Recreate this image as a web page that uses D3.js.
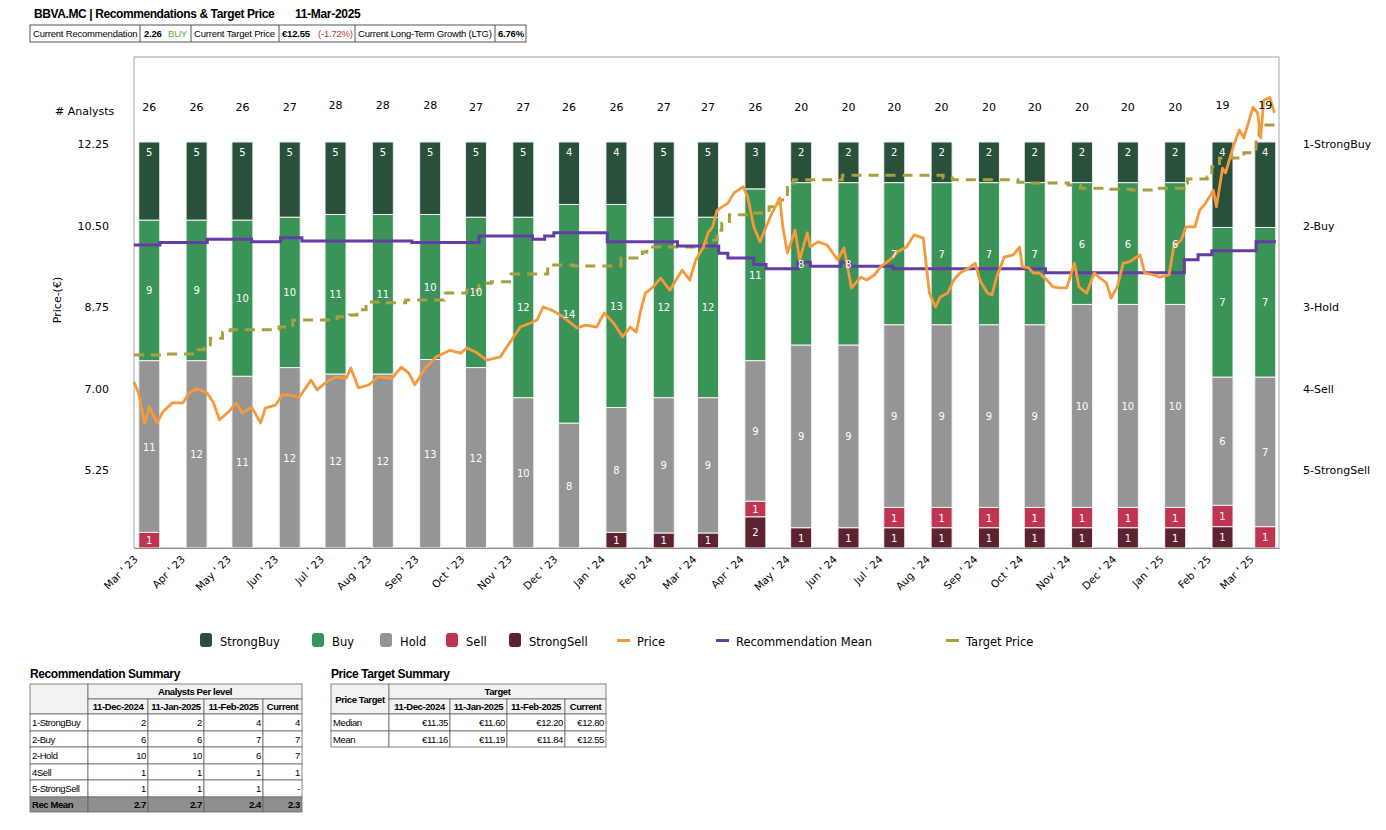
<!DOCTYPE html>
<html>
<head>
<meta charset="utf-8">
<script src="https://cdn.jsdelivr.net/npm/d3@7"></script>
<style>
  body { margin: 0; background: #fff; }
  svg { display: block; }
</style>
</head>
<body>
<svg id="chart" width="1386" height="830"></svg>
<script>
// ---- data ----
const months = ["2023-03-11","2023-04-11","2023-05-11","2023-06-11","2023-07-11","2023-08-11","2023-09-11",
  "2023-10-11","2023-11-11","2023-12-11","2024-01-11","2024-02-11","2024-03-11","2024-04-11","2024-05-11",
  "2024-06-11","2024-07-11","2024-08-11","2024-09-11","2024-10-11","2024-11-11","2024-12-11","2025-01-11",
  "2025-02-11","2025-03-11"];
const strongBuy  = [5,5,5,5,5,5,5,5,5,4,4,5,5,3,2,2,2,2,2,2,2,2,2,4,4];
const buy        = [9,9,10,10,11,11,10,10,12,14,13,12,12,11,8,8,7,7,7,7,6,6,6,7,7];
const hold       = [11,12,11,12,12,12,13,12,10,8,8,9,9,9,9,9,9,9,9,9,10,10,10,6,7];
const sell       = [1,0,0,0,0,0,0,0,0,0,0,0,0,1,0,0,1,1,1,1,1,1,1,1,1];
const strongSell = [0,0,0,0,0,0,0,0,0,0,1,1,1,2,1,1,1,1,1,1,1,1,1,1,0];

const price = [
  ["2023-03-01",7.14],["2023-03-04",6.90],["2023-03-08",6.25],["2023-03-11",6.60],["2023-03-16",6.26],
  ["2023-03-20",6.50],["2023-03-26",6.69],["2023-04-02",6.69],["2023-04-06",6.90],["2023-04-11",7.00],
  ["2023-04-18",6.90],["2023-04-22",6.70],["2023-04-26",6.33],["2023-05-02",6.50],["2023-05-07",6.69],
  ["2023-05-11",6.47],["2023-05-17",6.60],["2023-05-23",6.26],["2023-05-26",6.58],["2023-06-02",6.65],
  ["2023-06-06",6.86],["2023-06-12",6.86],["2023-06-17",6.80],["2023-06-25",7.18],["2023-06-29",6.97],
  ["2023-07-05",7.14],["2023-07-11",7.25],["2023-07-18",7.22],["2023-07-21",7.44],["2023-07-26",7.01],
  ["2023-08-02",7.08],["2023-08-08",7.25],["2023-08-17",7.22],["2023-08-23",7.46],["2023-08-28",7.33],
  ["2023-09-01",7.08],["2023-09-08",7.45],["2023-09-15",7.68],["2023-09-24",7.82],["2023-10-01",7.76],
  ["2023-10-05",7.87],["2023-10-11",7.78],["2023-10-18",7.61],["2023-10-27",7.68],["2023-11-02",7.98],
  ["2023-11-09",8.32],["2023-11-16",8.41],["2023-11-20",8.47],["2023-11-24",8.75],["2023-11-29",8.69],
  ["2023-12-03",8.62],["2023-12-07",8.54],["2023-12-12",8.41],["2023-12-16",8.30],["2023-12-22",8.36],
  ["2023-12-29",8.32],["2024-01-03",8.62],["2024-01-09",8.41],["2024-01-15",8.11],["2024-01-20",8.32],
  ["2024-01-24",8.21],["2024-01-27",8.69],["2024-01-30",9.05],["2024-02-04",9.18],["2024-02-09",9.37],
  ["2024-02-15",9.11],["2024-02-19",9.33],["2024-02-23",9.54],["2024-02-28",9.33],["2024-03-03",9.76],
  ["2024-03-08",10.04],["2024-03-11",10.34],["2024-03-14",10.47],["2024-03-17",10.83],["2024-03-24",10.98],
  ["2024-03-28",11.20],["2024-04-03",11.33],["2024-04-06",11.11],["2024-04-10",10.47],["2024-04-14",10.15],
  ["2024-04-18",10.47],["2024-04-22",10.77],["2024-04-27",11.09],["2024-04-29",10.47],["2024-05-02",9.91],
  ["2024-05-07",10.40],["2024-05-10",9.76],["2024-05-15",10.34],["2024-05-17",10.04],["2024-05-22",10.15],
  ["2024-05-28",10.08],["2024-06-04",9.76],["2024-06-08",10.02],["2024-06-13",9.16],["2024-06-19",9.39],
  ["2024-06-23",9.33],["2024-06-28",9.44],["2024-07-02",9.61],["2024-07-08",9.76],["2024-07-13",9.93],
  ["2024-07-19",10.04],["2024-07-24",10.30],["2024-07-30",10.23],["2024-08-03",9.05],["2024-08-07",8.75],
  ["2024-08-10",8.96],["2024-08-15",9.05],["2024-08-19",9.33],["2024-08-23",9.48],["2024-08-30",9.61],
  ["2024-09-02",9.69],["2024-09-05",9.33],["2024-09-10",9.05],["2024-09-13",9.01],["2024-09-16",9.39],
  ["2024-09-21",9.82],["2024-09-27",9.87],["2024-10-01",10.04],["2024-10-03",9.61],["2024-10-07",9.59],
  ["2024-10-10",9.48],["2024-10-14",9.48],["2024-10-19",9.33],["2024-10-23",9.18],["2024-10-27",9.16],
  ["2024-11-01",9.16],["2024-11-06",9.69],["2024-11-09",9.18],["2024-11-14",9.05],["2024-11-19",9.48],
  ["2024-11-22",9.39],["2024-11-27",9.27],["2024-11-30",8.94],["2024-12-04",9.18],["2024-12-08",9.69],
  ["2024-12-12",9.72],["2024-12-19",9.87],["2024-12-22",9.48],["2024-12-28",9.44],["2025-01-01",9.39],
  ["2025-01-07",9.44],["2025-01-10",10.04],["2025-01-15",10.19],["2025-01-18",10.47],["2025-01-24",10.47],
  ["2025-01-27",10.83],["2025-01-31",10.98],["2025-02-05",11.26],["2025-02-07",10.90],["2025-02-11",11.73],
  ["2025-02-13",11.63],["2025-02-18",12.19],["2025-02-22",12.55],["2025-02-25",12.38],["2025-03-03",13.04],
  ["2025-03-06",12.92],["2025-03-08",12.38],["2025-03-10",13.19],["2025-03-14",13.25],["2025-03-17",12.92]
];

const recMean = [
  ["2023-03-01",2.24],["2023-03-18",2.21],["2023-04-18",2.17],["2023-05-17",2.20],["2023-06-05",2.15],
  ["2023-06-19",2.19],["2023-08-30",2.21],["2023-10-13",2.13],["2023-11-17",2.17],["2023-11-25",2.13],
  ["2023-12-01",2.09],["2024-01-05",2.20],["2024-02-20",2.25],["2024-03-18",2.34],["2024-03-24",2.40],
  ["2024-04-10",2.48],["2024-04-18",2.53],["2024-05-09",2.45],["2024-05-17",2.50],["2024-06-06",2.45],
  ["2024-06-12",2.50],["2024-07-10",2.53],["2024-10-18",2.58],["2025-01-17",2.42],["2025-01-26",2.36],
  ["2025-02-04",2.31],["2025-03-05",2.20],["2025-03-18",2.20]
];

const target = [
  ["2023-03-01",7.72],["2023-03-21",7.74],["2023-04-11",7.83],["2023-04-16",7.87],["2023-04-20",8.08],
  ["2023-04-28",8.21],["2023-05-03",8.26],["2023-06-04",8.32],["2023-06-13",8.47],["2023-07-12",8.54],
  ["2023-07-20",8.58],["2023-07-25",8.69],["2023-07-31",8.86],["2023-08-11",8.84],["2023-08-26",8.90],
  ["2023-09-20",9.05],["2023-10-05",9.11],["2023-10-13",9.26],["2023-10-21",9.29],["2023-11-03",9.46],
  ["2023-11-27",9.61],["2023-11-29",9.65],["2023-12-14",9.63],["2024-01-14",9.80],["2024-01-28",9.93],
  ["2024-01-31",10.04],["2024-03-10",10.19],["2024-03-17",10.40],["2024-03-20",10.55],["2024-03-25",10.73],
  ["2024-04-07",10.77],["2024-04-20",10.90],["2024-04-27",11.05],["2024-05-02",11.41],["2024-05-06",11.48],
  ["2024-06-07",11.58],["2024-08-12",11.52],["2024-08-18",11.48],["2024-09-30",11.43],["2024-10-07",11.41],
  ["2024-11-02",11.37],["2024-11-10",11.30],["2024-11-28",11.28],["2024-12-13",11.26],["2024-12-29",11.30],
  ["2025-01-17",11.41],["2025-01-19",11.50],["2025-02-01",11.54],["2025-02-04",11.76],["2025-02-09",11.95],
  ["2025-02-25",12.06],["2025-03-05",12.34],["2025-03-07",12.66],["2025-03-18",12.66]
];

const priceTicks = [5.25, 7.00, 8.75, 10.50, 12.25];
const recLabels = ["1-StrongBuy","2-Buy","3-Hold","4-Sell","5-StrongSell"];

const tableDates = ["11-Dec-2024","11-Jan-2025","11-Feb-2025","Current"];
const recRowNames = ["1-StrongBuy","2-Buy","2-Hold","4Sell","5-StrongSell"];
const recRowVals = [[2,2,4,4],[6,6,7,7],[10,10,6,7],[1,1,1,1],[1,1,1,"-"]];
const recMeanVals = ["2.7","2.7","2.4","2.3"];
const ptRowNames = ["Median","Mean"];
const ptRowVals = [["€11.35","€11.60","€12.20","€12.80"],["€11.16","€11.19","€11.84","€12.55"]];

// ---- setup ----
const parse = d3.timeParse("%Y-%m-%d");
const svg = d3.select("#chart");
const FONT = "'DejaVu Sans', Verdana, sans-serif";
const NARROW = "'Liberation Sans', Arial, sans-serif";

const colors = {
  strongBuy: "#29503a", buy: "#3a9458", hold: "#959595", sell: "#bf3451", strongSell: "#5c2230",
  price: "#f6993b", rec: "#643ca4", target: "#a8a03c"
};

const plotL = 134, plotR = 1279, plotT = 57, plotB = 548;
const x = d3.scaleTime().domain([new Date(2023, 2, 1), new Date(2025, 2, 20)]).range([plotL, plotR]);
const yPrice = d3.scaleLinear().domain([5.25, 12.25]).range([470, 144]);
const yRec = d3.scaleLinear().domain([1, 5]).range([144, 470]);
const yPct = d3.scaleLinear().domain([0, 1]).range([plotB, 142]);

// ---- header ----
svg.append("text").attr("x", 34).attr("y", 18).attr("font-family", NARROW).attr("font-weight", "bold")
  .attr("font-size", 12).attr("letter-spacing", -0.4).text("BBVA.MC | Recommendations & Target Price");
svg.append("text").attr("x", 295).attr("y", 18).attr("font-family", NARROW).attr("font-weight", "bold")
  .attr("font-size", 12).attr("letter-spacing", -0.3).text("11-Mar-2025");

const infoEdges = [30, 140, 191, 279, 355, 495, 526];
const info = svg.append("g").attr("font-family", NARROW).attr("font-size", 9.5).attr("letter-spacing", -0.2);
info.append("rect").attr("x", 30).attr("y", 25).attr("width", 496).attr("height", 17)
  .attr("fill", "none").attr("stroke", "#555");
infoEdges.slice(1, -1).forEach(e => info.append("line").attr("x1", e).attr("x2", e)
  .attr("y1", 25).attr("y2", 42).attr("stroke", "#555"));
info.append("text").attr("x", 33).attr("y", 37).text("Current Recommendation");
info.append("text").attr("x", 144).attr("y", 37).attr("font-weight", "bold").text("2.26");
info.append("text").attr("x", 168).attr("y", 37).attr("fill", "#5cae35").text("BUY");
info.append("text").attr("x", 194).attr("y", 37).text("Current Target Price");
info.append("text").attr("x", 282).attr("y", 37).attr("font-weight", "bold").text("€12.55");
info.append("text").attr("x", 318).attr("y", 37).attr("fill", "#c0392b").text("(-1.72%)");
info.append("text").attr("x", 358).attr("y", 37).text("Current Long-Term Growth (LTG)");
info.append("text").attr("x", 498).attr("y", 37).attr("font-weight", "bold").text("6.76%");

// ---- plot frame ----
svg.append("rect").attr("x", plotL).attr("y", plotT).attr("width", plotR - plotL).attr("height", plotB - plotT)
  .attr("fill", "none").attr("stroke", "#a6a6a6").attr("stroke-width", 1);

// ---- bars ----
const keys = ["strongSell", "sell", "hold", "buy", "strongBuy"];
const rows = months.map((m, i) => ({
  date: parse(m), strongBuy: strongBuy[i], buy: buy[i], hold: hold[i], sell: sell[i], strongSell: strongSell[i],
  total: strongBuy[i] + buy[i] + hold[i] + sell[i] + strongSell[i]
}));
const series = d3.stack().keys(keys).offset(d3.stackOffsetExpand)(rows);
const barW = 21;

const barG = svg.append("g");
series.forEach(s => {
  barG.selectAll(null).data(s.filter(d => d.data[s.key] > 0)).enter().append("rect")
    .attr("x", d => x(d.data.date) - barW / 2)
    .attr("width", barW)
    .attr("y", d => yPct(d[1]))
    .attr("height", d => yPct(d[0]) - yPct(d[1]))
    .attr("fill", colors[s.key])
    .attr("stroke", "#f4f4f4").attr("stroke-width", 1);
});

// ---- lines ----
const lineOf = (y, curve) => d3.line().x(d => x(parse(d[0]))).y(d => y(d[1])).curve(curve);
svg.append("path").datum(target).attr("d", lineOf(yPrice, d3.curveStepAfter))
  .attr("fill", "none").attr("stroke", colors.target).attr("stroke-width", 3).attr("stroke-dasharray", "10,7");
svg.append("path").datum(recMean).attr("d", lineOf(yRec, d3.curveStepAfter))
  .attr("fill", "none").attr("stroke", colors.rec).attr("stroke-width", 3);
svg.append("path").datum(price).attr("d", lineOf(yPrice, d3.curveLinear))
  .attr("fill", "none").attr("stroke", colors.price).attr("stroke-width", 2.8).attr("stroke-linejoin", "round");

// ---- bar labels ----
const lblG = svg.append("g").attr("font-family", FONT).attr("font-size", 10).attr("fill", "#fff")
  .attr("text-anchor", "middle");
series.forEach(s => {
  lblG.selectAll(null).data(s.filter(d => d.data[s.key] > 0)).enter().append("text")
    .attr("x", d => x(d.data.date))
    .attr("y", d => s.key === "strongBuy" ? yPct(d[1]) + 14 : (yPct(d[0]) + yPct(d[1])) / 2 + 4)
    .text(d => d.data[s.key]);
});

// totals
svg.append("text").attr("x", 55).attr("y", 115).attr("font-family", FONT).attr("font-size", 11)
  .text("# Analysts");
svg.append("g").attr("font-family", FONT).attr("font-size", 11).attr("text-anchor", "middle")
  .selectAll("text").data(rows).enter().append("text")
  .attr("x", d => x(d.date)).attr("y", d => d.total === 28 || d.total === 19 ? 109 : 111).text(d => d.total);

// ---- axes ----
const yAxisG = svg.append("g").attr("transform", `translate(${plotL - 22},0)`)
  .call(d3.axisLeft(yPrice).tickValues(priceTicks).tickFormat(d3.format(".2f")).tickSize(0));
yAxisG.select(".domain").remove();
yAxisG.selectAll("text").attr("font-family", FONT).attr("font-size", 11).attr("fill", "#000");

svg.append("text").attr("transform", "translate(61,300) rotate(-90)").attr("text-anchor", "middle")
  .attr("font-family", FONT).attr("font-size", 11).text("Price-(€)");

const recAxisG = svg.append("g").attr("transform", `translate(${plotR + 21},0)`)
  .call(d3.axisRight(yRec).tickValues([1, 2, 3, 4, 5]).tickFormat((d, i) => recLabels[i]).tickSize(0));
recAxisG.select(".domain").remove();
recAxisG.selectAll("text").attr("font-family", FONT).attr("font-size", 11).attr("fill", "#000");

const xAxisG = svg.append("g").attr("transform", `translate(0,${plotB})`)
  .call(d3.axisBottom(x).ticks(d3.timeMonth.every(1)).tickFormat(d3.timeFormat("%b ' %y")).tickSize(0));
xAxisG.select(".domain").attr("stroke", "#8c8c8c");
xAxisG.selectAll("text").attr("font-family", FONT).attr("font-size", 10.5).attr("fill", "#000")
  .attr("text-anchor", "end").attr("dy", 0).attr("y", 0)
  .attr("transform", "translate(4,12) rotate(-45)");

// ---- legend ----
const legendItems = [
  { name: "StrongBuy", c: colors.strongBuy, kind: "box", x: 200 },
  { name: "Buy", c: colors.buy, kind: "box", x: 312 },
  { name: "Hold", c: colors.hold, kind: "box", x: 380 },
  { name: "Sell", c: colors.sell, kind: "box", x: 446 },
  { name: "StrongSell", c: colors.strongSell, kind: "box", x: 509 },
  { name: "Price", c: colors.price, kind: "line", x: 617 },
  { name: "Recommendation Mean", c: colors.rec, kind: "line", x: 716 },
  { name: "Target Price", c: colors.target, kind: "line", x: 946 }
];
const lg = svg.append("g").attr("font-family", FONT).attr("font-size", 11.5);
legendItems.forEach(it => {
  if (it.kind === "box") {
    lg.append("rect").attr("x", it.x).attr("y", 633).attr("width", 12).attr("height", 14).attr("rx", 3)
      .attr("fill", it.c);
  } else {
    lg.append("rect").attr("x", it.x).attr("y", 639).attr("width", 13).attr("height", 3).attr("fill", it.c);
  }
  lg.append("text").attr("x", it.x + 20).attr("y", 646).text(it.name);
});

// ---- summary tables ----
function cell(g, x0, y0, w, h, txt, opts = {}) {
  g.append("rect").attr("x", x0).attr("y", y0).attr("width", w).attr("height", h)
    .attr("fill", opts.fill || "#fff").attr("stroke", "#666").attr("stroke-width", 0.8);
  if (txt === undefined || txt === "") return;
  const anchor = opts.anchor || "end";
  const tx = anchor === "start" ? x0 + 2 : anchor === "middle" ? x0 + w / 2 : x0 + w - 2;
  g.append("text").attr("x", tx).attr("y", y0 + h / 2 + 3.5).attr("text-anchor", anchor)
    .attr("font-weight", opts.bold ? "bold" : "normal").text(txt);
}

const tg = svg.append("g").attr("font-family", NARROW).attr("font-size", 9.5).attr("letter-spacing", -0.4);
const hdrFill = "#f2f2f2";

// recommendation summary
svg.append("text").attr("x", 30).attr("y", 678).attr("font-family", NARROW).attr("font-weight", "bold")
  .attr("font-size", 12).attr("letter-spacing", -0.4).text("Recommendation Summary");
const rc = [30, 88, 148, 204, 263, 302];
const rr = [684, 699, 714, 731, 747, 764, 780, 797, 812];
cell(tg, rc[0], rr[0], rc[1] - rc[0], rr[2] - rr[0], "", { fill: hdrFill });
cell(tg, rc[1], rr[0], rc[5] - rc[1], rr[1] - rr[0], "Analysts Per level", { fill: hdrFill, anchor: "middle", bold: true });
tableDates.forEach((t, j) => cell(tg, rc[j + 1], rr[1], rc[j + 2] - rc[j + 1], rr[2] - rr[1], t,
  { fill: hdrFill, anchor: "middle", bold: true }));
recRowNames.forEach((n, i) => {
  cell(tg, rc[0], rr[i + 2], rc[1] - rc[0], rr[i + 3] - rr[i + 2], n, { anchor: "start" });
  recRowVals[i].forEach((v, j) => cell(tg, rc[j + 1], rr[i + 2], rc[j + 2] - rc[j + 1], rr[i + 3] - rr[i + 2], v));
});
cell(tg, rc[0], rr[7], rc[1] - rc[0], rr[8] - rr[7], "Rec Mean", { fill: "#8f8f8f", anchor: "start", bold: true });
recMeanVals.forEach((v, j) => cell(tg, rc[j + 1], rr[7], rc[j + 2] - rc[j + 1], rr[8] - rr[7], v,
  { fill: "#8f8f8f", bold: true }));

// price target summary
svg.append("text").attr("x", 331).attr("y", 678).attr("font-family", NARROW).attr("font-weight", "bold")
  .attr("font-size", 12).attr("letter-spacing", -0.4).text("Price Target Summary");
const pc = [331, 389, 450, 507, 565, 606];
const pr = [684, 699, 714, 731, 747];
cell(tg, pc[0], pr[0], pc[1] - pc[0], pr[2] - pr[0], "Price Target", { fill: hdrFill, anchor: "middle", bold: true });
cell(tg, pc[1], pr[0], pc[5] - pc[1], pr[1] - pr[0], "Target", { fill: hdrFill, anchor: "middle", bold: true });
tableDates.forEach((t, j) => cell(tg, pc[j + 1], pr[1], pc[j + 2] - pc[j + 1], pr[2] - pr[1], t,
  { fill: hdrFill, anchor: "middle", bold: true }));
ptRowNames.forEach((n, i) => {
  cell(tg, pc[0], pr[i + 2], pc[1] - pc[0], pr[i + 3] - pr[i + 2], n, { anchor: "start" });
  ptRowVals[i].forEach((v, j) => cell(tg, pc[j + 1], pr[i + 2], pc[j + 2] - pc[j + 1], pr[i + 3] - pr[i + 2], v));
});
</script>
</body>
</html>
